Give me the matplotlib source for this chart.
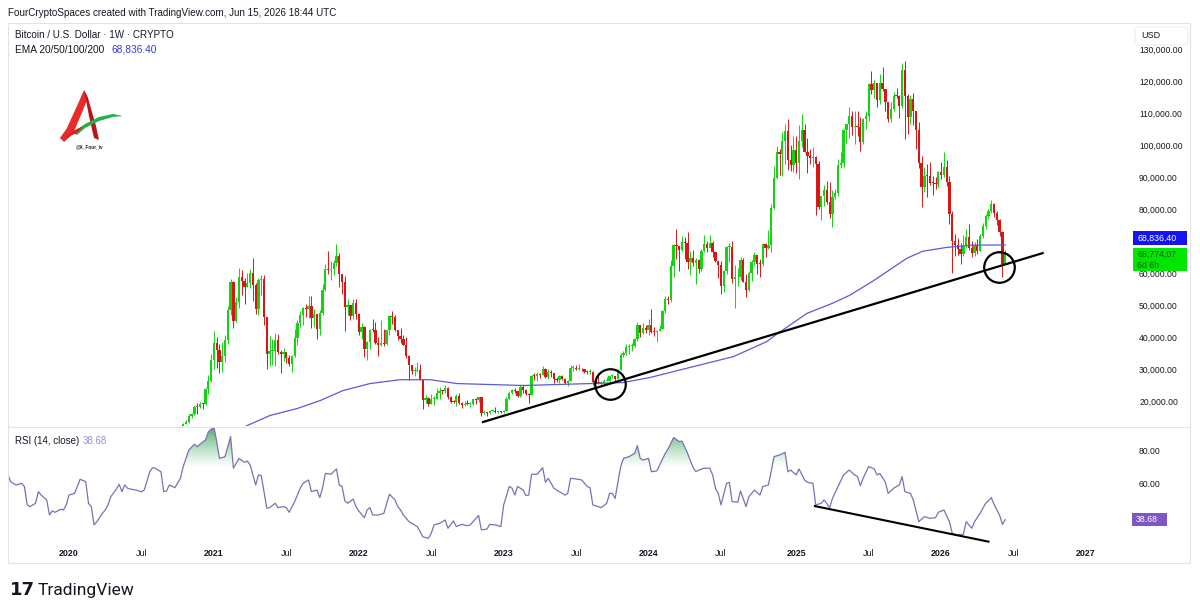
import numpy as np
import pandas as pd
import matplotlib
matplotlib.use("Agg")
import matplotlib.pyplot as plt
import matplotlib.dates as mdates
from matplotlib.patches import Rectangle, FancyBboxPatch, Polygon
from matplotlib.path import Path
from matplotlib.colors import LinearSegmentedColormap

plt.rcParams['font.family'] = ['Liberation Sans', 'DejaVu Sans']

W, H = 1200, 615

# weekly BTCUSD candles, thousands of USD, one per Monday week, last = week of Jun 15 2026
first_open = 10.78
closes = [
    10.67, 11.39, 11.50, 13.03, 13.74, 15.47, 15.96, 18.41, 18.17, 19.35, 19.14, 23.82, 26.45, 33.0,
    38.2, 36.0, 32.3, 34.3, 39.2, 48.6, 57.4, 45.2, 51.2, 59.0, 57.5, 55.8, 57.1, 60.0, 56.2, 49.0,
    57.8, 58.2, 46.5, 34.7, 35.7, 35.8, 39.1, 35.5, 34.7, 35.3, 33.5, 31.8, 34.3, 39.9, 44.6, 47.1,
    49.3, 48.9, 49.9, 46.0, 47.3, 42.7, 47.6, 54.9, 61.5, 60.9, 61.3, 63.3, 65.5, 59.7, 57.3, 49.4,
    50.1, 46.7, 50.8, 47.3,
    41.8, 43.1, 36.3, 38.5, 42.4, 42.2, 38.3, 37.7, 38.4, 37.8, 42.2, 46.8, 46.4, 42.2, 40.4, 39.4,
    37.6, 34.3, 31.3, 29.4, 29.4, 29.9, 26.6, 20.6, 21.0, 19.3, 20.8, 20.8, 22.6, 23.3, 23.2, 24.3,
    21.5, 20.0, 19.8, 21.8, 19.4, 18.9, 19.3, 19.1, 19.1, 20.8, 20.6, 21.3, 16.3, 16.7, 16.5, 17.1,
    17.1, 16.8, 16.8, 16.6,
    17.1, 20.9, 22.7, 23.7, 23.3, 21.8, 24.6, 23.6, 22.2, 22.1, 28.0, 27.9, 28.5, 28.3, 30.3, 27.6,
    29.2, 28.8, 26.9, 26.7, 28.1, 27.1, 25.8, 26.3, 30.5, 30.6, 30.2, 30.2, 30.0, 29.3, 29.1, 29.3,
    26.1, 26.0, 25.8, 25.8, 26.5, 26.5, 27.9, 27.9, 27.1, 29.9, 34.5, 35.0, 37.0, 37.4, 37.4, 39.5,
    43.8, 41.4, 43.0, 42.3,
    43.9, 41.7, 41.6, 42.0, 42.6, 48.3, 52.1, 51.7, 62.4, 68.9, 68.4, 67.2, 69.7, 69.4, 63.4, 64.9,
    63.1, 64.0, 61.5, 67.0, 69.0, 67.8, 69.6, 66.6, 63.9, 62.7, 55.9, 60.8, 68.2, 68.2, 58.1, 58.7,
    59.0, 64.2, 57.3, 54.8, 60.0, 63.6, 65.6, 62.9, 62.8, 69.0, 67.9, 68.8, 80.4, 89.8, 97.9, 97.3,
    101.2, 104.3, 95.2, 93.7, 98.4,
    94.5, 101.3, 104.7, 97.7, 96.5, 96.1, 96.2, 94.2, 80.7, 84.0, 86.1, 82.3, 78.4, 83.7, 85.2, 93.8,
    94.3, 104.6, 106.5, 109.0, 105.6, 105.7, 105.6, 100.9, 108.3, 109.2, 119.1, 117.3, 119.4, 114.2,
    119.3, 117.4, 113.5, 108.2, 111.2, 115.3, 115.2, 112.2, 123.5, 115.2, 108.7, 114.5, 110.6, 104.7,
    94.3, 86.8, 90.4, 90.3, 88.2, 88.1, 87.8, 91.5,
    90.6, 93.2, 88.5, 78.6, 70.2, 68.8, 67.7, 65.9, 68.4, 71.2, 68.0, 66.4, 68.8, 67.0, 71.5, 74.8,
    77.9, 79.5, 81.5, 78.8, 76.5, 72.8, 63.0, 66.774,
]
highs = [
    10.95, 11.49, 11.72, 13.35, 14.10, 15.96, 16.48, 18.80, 19.48, 19.90, 19.40, 24.30, 28.40, 34.80,
    41.9, 40.1, 37.8, 38.5, 40.9, 49.7, 58.3, 57.5, 52.6, 61.8, 60.9, 58.4, 60.1, 61.2, 64.9, 57.0,
    58.4, 59.6, 59.5, 45.8, 40.4, 39.4, 41.3, 41.0, 36.0, 36.6, 35.1, 34.6, 34.5, 42.6, 45.3, 48.1,
    49.4, 50.5, 52.9, 52.9, 48.8, 47.4, 48.4, 56.6, 62.9, 67.0, 63.7, 64.3, 69.0, 66.3, 59.4, 59.1,
    51.9, 50.0, 51.9, 52.0,
    47.5, 44.5, 43.5, 38.9, 42.6, 45.8, 44.7, 40.0, 45.4, 42.6, 42.3, 46.9, 48.2, 47.1, 42.4, 42.9,
    40.7, 40.0, 34.4, 31.3, 30.7, 32.3, 31.6, 26.9, 21.9, 21.5, 22.5, 21.6, 24.2, 24.6, 23.6, 25.2,
    24.4, 21.8, 20.5, 22.4, 22.7, 19.9, 20.3, 20.4, 19.9, 20.8, 21.0, 21.4, 21.4, 17.2, 16.8, 17.4,
    17.4, 18.4, 17.0, 16.9,
    17.2, 21.3, 23.3, 23.9, 24.3, 23.4, 25.2, 25.1, 23.9, 22.6, 28.4, 28.9, 29.2, 28.8, 31.0, 30.5,
    30.0, 29.8, 28.8, 27.6, 28.2, 28.4, 27.4, 26.8, 31.4, 31.3, 31.5, 31.8, 30.4, 30.0, 29.9, 30.2,
    29.6, 28.1, 28.1, 26.1, 26.9, 27.5, 28.1, 28.6, 28.0, 30.3, 35.2, 35.9, 37.9, 37.9, 38.4, 39.7,
    44.7, 43.4, 44.4, 43.8,
    45.9, 49.0, 43.2, 42.3, 43.9, 48.6, 52.9, 52.9, 64.0, 69.2, 73.8, 68.1, 71.7, 71.3, 72.8, 66.9,
    67.2, 64.7, 64.5, 67.6, 71.9, 70.0, 71.9, 70.1, 66.9, 63.2, 63.8, 61.1, 68.4, 69.4, 70.0, 62.7,
    61.8, 65.0, 64.9, 59.8, 60.7, 64.1, 66.5, 65.6, 64.5, 69.4, 69.5, 73.6, 81.5, 93.5, 99.6, 98.7,
    104.0, 106.5, 108.3, 99.9, 102.7,
    102.7, 106.4, 109.6, 106.5, 102.3, 98.8, 99.5, 96.5, 95.0, 84.1, 87.5, 88.7, 88.5, 86.1, 86.4, 95.8,
    97.9, 105.0, 106.6, 112.0, 110.7, 110.5, 110.5, 108.9, 108.5, 110.5, 119.5, 123.2, 120.2, 119.4,
    122.3, 124.5, 117.6, 113.4, 113.4, 116.7, 117.9, 115.6, 125.7, 126.2, 115.9, 115.5, 116.4, 110.6,
    107.3, 96.6, 93.1, 94.1, 94.6, 90.4, 90.0, 91.8,
    94.8, 97.9, 95.5, 90.5, 79.3, 72.3, 70.9, 69.5, 71.8, 73.9, 75.4, 70.2, 69.8, 70.6, 72.4, 75.8,
    78.6, 80.2, 83.0, 82.0, 79.3, 77.0, 73.3, 67.3,
]
lows = [
    10.37, 10.53, 11.20, 11.30, 12.90, 13.20, 14.80, 15.80, 16.20, 18.00, 17.60, 19.00, 22.30, 26.00,
    30.2, 30.4, 28.8, 29.2, 32.3, 38.0, 47.0, 43.0, 44.9, 49.3, 53.3, 50.4, 55.6, 55.4, 51.5, 47.2,
    47.0, 53.2, 43.8, 30.0, 31.1, 31.4, 31.0, 34.9, 28.8, 32.7, 32.1, 31.1, 29.3, 34.0, 37.6, 43.1,
    43.9, 46.4, 46.0, 42.9, 43.4, 39.6, 40.8, 47.1, 54.4, 59.7, 58.0, 59.5, 62.3, 55.6, 53.5, 42.0,
    47.1, 45.5, 45.6, 45.7,
    40.6, 39.6, 34.0, 32.9, 36.3, 41.7, 38.0, 34.3, 37.2, 37.2, 37.6, 40.9, 44.2, 41.9, 39.2, 38.2,
    37.6, 33.7, 26.7, 28.7, 28.0, 29.3, 26.6, 17.6, 19.6, 18.6, 19.3, 18.9, 20.8, 20.7, 22.4, 22.7,
    20.8, 19.6, 19.6, 18.6, 19.3, 18.1, 18.6, 18.9, 18.2, 18.9, 19.2, 20.0, 15.6, 16.1, 15.5, 16.1,
    16.9, 16.3, 16.4, 16.3,
    16.5, 17.1, 20.4, 22.3, 22.7, 21.4, 21.4, 22.8, 21.9, 19.6, 21.9, 26.6, 26.5, 27.3, 28.2, 27.2,
    27.0, 27.7, 25.8, 26.0, 25.9, 26.6, 25.4, 24.8, 26.3, 29.5, 29.8, 29.9, 29.5, 28.9, 28.6, 28.7,
    25.2, 25.7, 25.4, 24.9, 25.0, 26.3, 26.0, 27.2, 26.5, 26.9, 29.9, 33.9, 34.5, 34.8, 35.7, 36.9,
    39.0, 40.2, 41.2, 41.5,
    40.8, 41.5, 40.3, 38.5, 41.9, 42.5, 47.7, 50.5, 50.9, 59.0, 64.5, 60.8, 66.9, 64.5, 61.2, 59.6,
    62.4, 56.6, 60.2, 60.8, 66.7, 66.7, 68.5, 65.1, 63.4, 58.4, 53.5, 54.3, 59.7, 63.5, 57.1, 49.1,
    56.1, 57.8, 57.2, 52.5, 54.6, 57.5, 62.7, 59.8, 58.9, 62.4, 65.1, 67.5, 66.8, 80.2, 89.4, 90.8,
    90.5, 94.2, 92.2, 92.0, 91.5,
    91.2, 89.3, 99.5, 97.7, 91.2, 94.1, 93.3, 78.2, 80.0, 76.6, 81.1, 81.6, 77.2, 74.4, 83.1, 84.1,
    92.8, 93.3, 100.8, 102.1, 103.1, 100.4, 102.7, 98.2, 100.3, 105.0, 107.5, 115.8, 114.7, 112.0,
    112.7, 116.8, 110.8, 107.3, 107.3, 110.6, 114.6, 108.6, 111.6, 102.0, 103.5, 106.6, 106.3, 98.9,
    93.0, 80.6, 85.3, 83.8, 87.6, 84.4, 86.4, 86.9,
    89.3, 90.2, 87.3, 75.5, 60.1, 65.3, 65.6, 62.8, 65.5, 67.8, 67.3, 65.0, 65.4, 66.1, 66.9, 70.9,
    73.9, 77.0, 78.9, 77.5, 75.0, 71.5, 59.0, 62.8,
]
last_week = "2026-06-15"

# EMA line (thousands USD)
ema_dates = ["2021-03-18", "2021-05-25", "2021-08-01", "2021-09-28", "2021-11-24", "2022-01-31",
             "2022-04-17", "2022-07-01", "2022-09-07", "2022-11-29", "2023-02-20", "2023-05-16",
             "2023-08-07", "2023-10-29", "2024-01-05", "2024-03-12", "2024-08-01", "2024-10-24",
             "2024-11-19", "2025-02-02", "2025-04-08", "2025-05-21", "2025-07-18", "2025-10-11",
             "2025-11-20", "2026-01-20", "2026-03-26", "2026-06-15"]
ema_vals = [11.9, 15.65, 17.8, 20.3, 23.4, 25.6, 26.8, 26.8, 25.6, 25.3, 25.0, 25.3,
            25.6, 25.9, 27.5, 29.6, 34.0, 38.7, 41.1, 47.5, 50.7, 53.2, 57.6, 64.7,
            66.9, 68.1, 68.8, 68.8364]
ema_last = 68836.40
close_last = 66774.07

# RSI(14): week offsets from rsi_start and values
rsi_start = "2019-08-05"
rsi_week = [0, 1, 3, 5, 6, 7, 8, 10, 11, 12, 14, 15, 16, 17, 19, 20, 21, 22, 24, 25, 26, 28, 29, 30,
            31, 32, 34, 35, 36, 37, 39, 40, 41, 42, 43, 44, 46, 48, 49, 51, 52, 53, 55, 56, 57, 58,
            60, 62, 63, 64, 65, 67, 68, 69, 71, 72, 74, 75, 76, 78, 79, 80, 81, 82, 83, 85, 86, 87,
            89, 90, 91, 93, 94, 96, 97, 99, 100, 101, 103, 105, 106, 108, 109, 111, 112, 113, 114,
            116, 118, 119, 120, 121, 122, 124, 125, 126, 128, 129, 130, 131, 133, 135, 137, 139,
            140, 141, 142, 144, 146, 147, 149, 151, 152, 153, 155, 157, 158, 160, 161, 163, 165,
            166, 169, 170, 172, 173, 175, 177, 178, 180, 181, 182, 183, 185, 186, 187, 188, 190,
            192, 193, 194, 196, 197, 200, 201, 202, 204, 206, 208, 209, 210, 212, 213, 215, 216,
            217, 218, 220, 221, 223, 225, 226, 227, 228, 230, 231, 233, 234, 236, 237, 239, 241,
            242, 244, 246, 247, 248, 250, 252, 253, 254, 255, 256, 258, 259, 260, 262, 263, 265,
            266, 268, 270, 271, 273, 274, 275, 277, 279, 280, 281, 283, 284, 286, 287, 289, 290,
            292, 293, 295, 296, 298, 300, 302, 304, 305, 306, 307, 309, 311, 312, 313, 315, 316,
            318, 320, 321, 322, 324, 325, 327, 329, 331, 333, 334, 336, 338, 339, 341, 343, 344,
            346, 347, 349, 351, 352, 353, 354, 355, 356, 357, 358]
rsi_val = [66.3, 61.4, 59.4, 60.4, 58.5, 47.5, 46.5, 48.5, 55.4, 53.4, 50.5, 41.5, 43.9, 43.1, 44.9,
           44.5, 47.5, 53.4, 54.4, 58.5, 62.8, 61.4, 48.5, 46.5, 35.6, 37.5, 42.5, 44.5, 47.5, 52.4,
           57.0, 59.8, 55.4, 59.4, 57.5, 57.0, 56.4, 55.4, 56.4, 67.3, 69.7, 69.4, 67.3, 55.4, 55.8,
           59.4, 57.8, 63.4, 70.4, 75.3, 80.3, 83.7, 82.3, 83.7, 86.3, 90.9, 94.3, 85.3, 75.3, 76.3,
           82.3, 88.3, 69.4, 72.4, 75.3, 72.9, 73.7, 71.4, 59.4, 65.4, 65.0, 45.5, 45.9, 48.5, 45.9,
           46.5, 45.9, 43.1, 49.5, 57.5, 60.4, 62.4, 55.4, 56.4, 51.9, 57.5, 66.3, 65.8, 69.0, 59.4,
           58.5, 49.9, 48.5, 51.0, 46.5, 43.9, 39.9, 44.5, 45.9, 41.5, 41.5, 42.5, 53.9, 50.5, 46.5,
           44.5, 41.5, 37.5, 35.6, 34.6, 28.5, 27.6, 30.5, 35.6, 36.5, 38.5, 33.6, 38.0, 34.6, 35.9,
           35.1, 35.6, 41.2, 32.6, 33.1, 35.9, 35.6, 34.6, 47.5, 58.5, 57.5, 53.4, 58.5, 56.4, 53.1,
           53.4, 65.8, 65.8, 69.7, 61.0, 63.4, 57.5, 56.4, 53.4, 54.4, 63.4, 63.0, 62.4, 58.5, 57.8,
           47.5, 46.5, 45.9, 48.5, 54.4, 54.4, 51.4, 70.4, 75.3, 76.3, 78.3, 82.9, 75.3, 74.3, 75.3,
           67.3, 67.8, 71.4, 78.3, 80.9, 87.7, 85.3, 85.6, 78.3, 69.7, 67.3, 68.3, 69.4, 69.4, 65.4,
           57.5, 54.4, 47.5, 60.4, 61.0, 49.5, 49.1, 55.8, 46.5, 52.4, 56.4, 53.4, 58.5, 59.4, 67.3,
           76.3, 77.3, 78.9, 67.3, 68.3, 65.4, 69.0, 62.4, 61.0, 60.4, 47.5, 48.5, 50.5, 45.9, 51.4,
           58.5, 65.4, 68.3, 65.4, 64.4, 59.0, 63.4, 70.4, 69.0, 65.4, 66.3, 61.0, 54.4, 57.5, 59.4,
           64.4, 55.4, 54.4, 50.5, 37.5, 40.5, 39.5, 39.9, 43.1, 44.5, 37.5, 30.5, 29.5, 30.0, 37.5,
           33.6, 37.5, 42.5, 48.5, 50.0, 51.9, 47.8, 44.5, 41.3, 35.9, 38.68]

# drawings
trend_dates = ["2022-11-11", "2026-09-17"]
trend_prices = [13.6, 66.3]
circle_dates = ["2023-09-25", "2026-05-31"]
circle_prices = [25.5, 62.1]
rsi_trend_dates = ["2025-02-22", "2026-05-04"]
rsi_trend_vals = [46.8, 25.6]

# 70,000 sits under the EMA price label, so it is not shown
price_ticks = [20000, 30000, 40000, 50000, 60000, 80000, 90000, 100000, 110000, 120000, 130000]
rsi_ticks = [60, 80]
time_ticks = ["2020-01-06", "2020-07-06", "2021-01-04", "2021-07-05", "2022-01-03", "2022-07-04",
              "2023-01-02", "2023-07-03", "2024-01-01", "2024-07-01", "2025-01-06", "2025-07-07",
              "2026-01-05", "2026-07-06", "2027-01-04"]
time_labels = ["2020", "Jul", "2021", "Jul", "2022", "Jul", "2023", "Jul", "2024", "Jul",
               "2025", "Jul", "2026", "Jul", "2027"]

UP, DOWN = '#0fd60f', '#dc1414'
TXT = '#131722'
BORDER = '#e0e3eb'


def fx(x):
    return x / W


def fy(y):
    return 1 - y / H


def dnum(s):
    d = pd.to_datetime(s)
    if isinstance(d, pd.Timestamp):
        return mdates.date2num(d.to_pydatetime())
    return mdates.date2num(d.values)


fig = plt.figure(figsize=(12, 6.15), dpi=100)
fig.patch.set_facecolor('white')

ax = fig.add_axes([fx(8), fy(426), (1128 - 8) / W, (426 - 24) / H])
ax2 = fig.add_axes([fx(8), fy(546), (1128 - 8) / W, (546 - 427) / H])

xmin, xmax = dnum("2019-08-05 18:00"), dnum("2027-04-19 12:00")

# candles
dates = pd.date_range(end=last_week, periods=len(closes), freq='W-MON')
xd = mdates.date2num(dates.values)
c = np.array(closes) * 1000
o = np.concatenate([[first_open * 1000], c[:-1]])
hi = np.array(highs) * 1000
lo = np.array(lows) * 1000
cols = np.where(c >= o, UP, DOWN)
ax.vlines(xd, lo, hi, colors=cols, lw=0.7, zorder=2)
body = np.maximum(np.abs(c - o), 300)
ax.bar(xd, body, bottom=np.minimum(o, c), width=5.8, color=cols, linewidth=0, zorder=3)

# EMA
ax.plot(dnum(ema_dates), np.array(ema_vals) * 1000, color='#5a5ad6', lw=0.9, zorder=4)

# trend line and circles
ax.plot(dnum(trend_dates), np.array(trend_prices) * 1000, color='black', lw=1.6, zorder=5)
ax.plot(dnum(circle_dates), np.array(circle_prices) * 1000, 'o', ms=22, mfc='none',
        mec='black', mew=1.6, zorder=6)

ax.set_xlim(xmin, xmax)
ax.set_ylim(12360, 137790)
for s in ax.spines.values():
    s.set_visible(False)
ax.set_xticks([])
ax.yaxis.tick_right()
ax.set_yticks(price_ticks)
ax.set_yticklabels([f"{v:,.2f}" for v in price_ticks])
ax.tick_params(axis='y', length=0, pad=8, labelsize=6.2, labelcolor=TXT)

# RSI pane
rd = dnum(rsi_start) + np.array(rsi_week) * 7.0
rv = np.array(rsi_val)
fill = ax2.fill_between(rd, rv, 70, where=rv > 70, interpolate=True, color='none', lw=0)
paths = fill.get_paths()
if paths:
    clip = Path.make_compound_path(*paths)
    cmap = LinearSegmentedColormap.from_list('ob', [(0.35, 0.75, 0.45, 0.0), (0.15, 0.55, 0.3, 0.85)])
    grad = np.linspace(0, 1, 256).reshape(-1, 1)
    im = ax2.imshow(grad, extent=[xmin, xmax, 70, 95], origin='lower', cmap=cmap,
                    aspect='auto', zorder=1, interpolation='bilinear')
    im.set_clip_path(clip, ax2.transData)
ax2.plot(rd, rv, color='#7a70b4', lw=0.9, zorder=3)
ax2.plot(dnum(rsi_trend_dates), rsi_trend_vals, color='black', lw=1.5, zorder=4)

ax2.set_xlim(xmin, xmax)
ax2.set_ylim(23.0, 94.0)
for s in ax2.spines.values():
    s.set_visible(False)
ax2.yaxis.tick_right()
ax2.set_yticks(rsi_ticks)
ax2.set_yticklabels([f"{v:.2f}" for v in rsi_ticks])
ax2.tick_params(axis='y', length=0, pad=8, labelsize=6.2, labelcolor=TXT)
ax2.set_xticks(dnum(time_ticks))
ax2.set_xticklabels(time_labels)
ax2.tick_params(axis='x', length=0, pad=2.2, labelsize=6.4, labelcolor=TXT)
for t in ax2.get_xticklabels():
    if t.get_text() != 'Jul':
        t.set_fontweight('bold')

# frame and pane separators
fig.add_artist(Rectangle((fx(8), fy(563)), (1190 - 8) / W, (563 - 23) / H, transform=fig.transFigure,
                         fill=False, edgecolor=BORDER, lw=0.8))
fig.add_artist(plt.Line2D([fx(8), fx(1190)], [fy(426.5), fy(426.5)], transform=fig.transFigure,
                          color=BORDER, lw=0.8))

# header and legends
fig.text(fx(8), fy(13), "FourCryptoSpaces created with TradingView.com, Jun 15, 2026 18:44 UTC",
         fontsize=7.1, color=TXT, va='center')
fig.text(fx(15), fy(35), "Bitcoin / U.S. Dollar \u00b7 1W \u00b7 CRYPTO", fontsize=7.1, color=TXT, va='center')
fig.text(fx(15), fy(50), "EMA 20/50/100/200", fontsize=7.3, color=TXT, va='center')
fig.text(fx(111), fy(50), f"{ema_last:,.2f}", fontsize=7.3, color='#2f3bd0', va='center')
fig.text(fx(15), fy(441), "RSI (14, close)", fontsize=7.0, color=TXT, va='center')
fig.text(fx(83), fy(441), f"{rsi_val[-1]:.2f}", fontsize=7.0, color='#9c8ad4', va='center')

# USD box
fig.add_artist(FancyBboxPatch((fx(1135), fy(45)), 53 / W, 18 / H, boxstyle='round,pad=0,rounding_size=0.004',
                              transform=fig.transFigure, facecolor='white', edgecolor='#eceef2', lw=0.8, zorder=5))
fig.text(fx(1141), fy(36), "USD", fontsize=6.5, color=TXT, va='center', zorder=6)


# price scale labels
def py(ax_, v):
    return ax_.transData.transform((0, v))[1] / fig.bbox.height


ye = py(ax, ema_last) + 7 / H
fig.add_artist(Rectangle((fx(1133), ye - 7 / H), 54 / W, 14 / H, transform=fig.transFigure,
                         facecolor='#1414f0', edgecolor='none', zorder=7))
fig.text(fx(1137), ye, f"{ema_last:,.2f}", fontsize=6.3, color='white', va='center', zorder=8)

yc = py(ax, close_last) + 3.5 / H
fig.add_artist(Rectangle((fx(1133), yc - 23 / H), 54 / W, 23 / H, transform=fig.transFigure,
                         facecolor='#00e600', edgecolor='none', zorder=7))
fig.text(fx(1137), yc - 6 / H, f"{close_last:,.2f}", fontsize=6.3, color='#14501a', va='center', zorder=8)
fig.text(fx(1137), yc - 17 / H, "6d 6h", fontsize=6.3, color='#14501a', va='center', zorder=8)

yr = py(ax2, rsi_val[-1])
fig.add_artist(Rectangle((fx(1132), yr - 6.5 / H), 35 / W, 13 / H, transform=fig.transFigure,
                         facecolor='#7e57c2', edgecolor='none', zorder=7))
fig.text(fx(1136), yr, f"{rsi_val[-1]:.2f}", fontsize=6.3, color='white', va='center', zorder=8)

# watermark logo (top left)
lg = fig.add_axes([fx(55), fy(152), 70 / W, 66 / H])
lg.set_xlim(0, 70)
lg.set_ylim(66, 0)
lg.axis('off')
lg.add_patch(Polygon([(5, 52), (9, 56), (18, 48), (33, 12), (29, 4), (22, 20), (12, 42)],
                     closed=True, color='#e82a2a', lw=0))
lg.add_patch(Polygon([(29, 4), (33, 12), (41, 40), (44, 54), (39, 52), (34, 30)],
                     closed=True, color='#b8141c', lw=0))
lg.add_patch(Polygon([(18, 47), (30, 38), (44, 31), (58, 28), (68, 30), (58, 31), (44, 35), (30, 42), (22, 49)],
                     closed=True, color='#23b04a', lw=0))
lg.add_patch(Polygon([(10, 52), (18, 45), (28, 40), (22, 47)], closed=True, color='#d82020', lw=0))
lg.text(35, 61, "@X_Four_iv", fontsize=3.4, ha='center', va='center', color='#222222', fontweight='bold')

# TradingView logo
fig.text(fx(10), fy(590), "17", fontsize=13, fontweight='bold', color=TXT, va='center',
         family=['DejaVu Sans'])
fig.text(fx(38), fy(590), "TradingView", fontsize=12.5, color=TXT, va='center', family=['Roboto', 'DejaVu Sans'])

fig.savefig('out.png', dpi=100, facecolor='white')
